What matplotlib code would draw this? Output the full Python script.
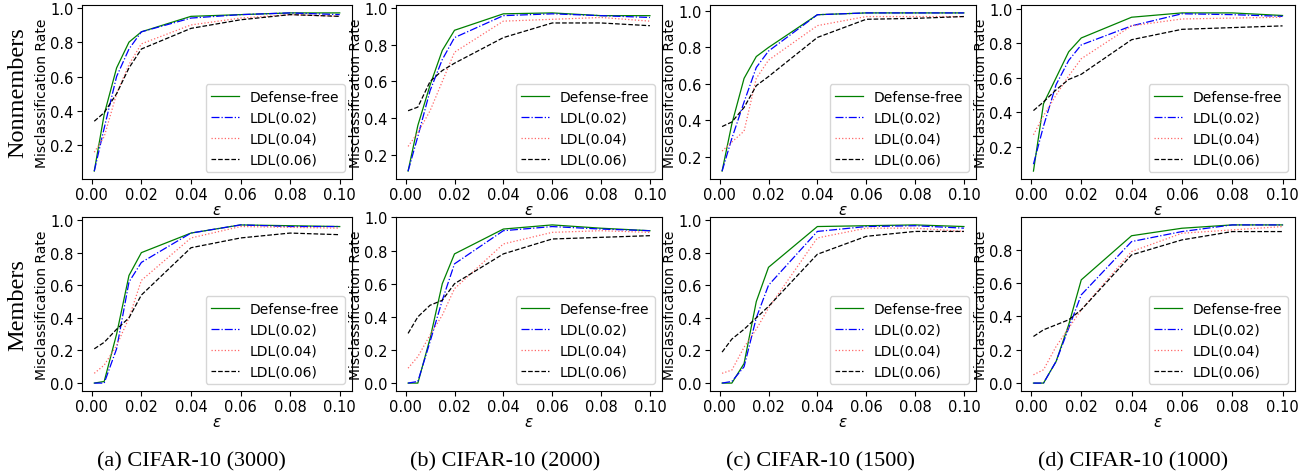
import numpy as np
import matplotlib
matplotlib.use("Agg")
import matplotlib.pyplot as plt
from matplotlib.ticker import MultipleLocator

eps = [0.001, 0.005, 0.01, 0.015, 0.02, 0.04, 0.06, 0.08, 0.1]
series_names = ["Defense-free", "LDL(0.02)", "LDL(0.04)", "LDL(0.06)"]
captions = ["(a) CIFAR-10 (3000)", "(b) CIFAR-10 (2000)", "(c) CIFAR-10 (1500)", "(d) CIFAR-10 (1000)"]
row_names = ["Nonmembers", "Members"]

# -----nonmembers-----
non_3000 = [
    [0.05, 0.38, 0.65, 0.80, 0.86, 0.95, 0.96, 0.97, 0.97],
    [0.05, 0.30, 0.60, 0.76, 0.86, 0.94, 0.96, 0.97, 0.96],
    [0.16, 0.25, 0.50, 0.67, 0.79, 0.90, 0.94, 0.96, 0.95],
    [0.34, 0.39, 0.50, 0.65, 0.76, 0.88, 0.93, 0.96, 0.95],
]
non_2000 = [
    [0.11, 0.36, 0.58, 0.77, 0.88, 0.97, 0.975, 0.96, 0.96],
    [0.11, 0.30, 0.55, 0.72, 0.84, 0.96, 0.97, 0.96, 0.95],
    [0.245, 0.32, 0.44, 0.60, 0.76, 0.93, 0.94, 0.95, 0.93],
    [0.44, 0.46, 0.60, 0.66, 0.70, 0.84, 0.92, 0.92, 0.905],
]
non_1500 = [
    [0.12, 0.38, 0.63, 0.75, 0.80, 0.98, 0.99, 0.99, 0.99],
    [0.12, 0.30, 0.50, 0.69, 0.78, 0.98, 0.99, 0.99, 0.99],
    [0.23, 0.28, 0.34, 0.63, 0.73, 0.92, 0.97, 0.97, 0.97],
    [0.365, 0.39, 0.47, 0.59, 0.64, 0.855, 0.955, 0.96, 0.97],
]
non_1000 = [
    [0.06, 0.45, 0.60, 0.75, 0.83, 0.95, 0.975, 0.975, 0.96],
    [0.10, 0.32, 0.56, 0.70, 0.79, 0.90, 0.97, 0.965, 0.955],
    [0.27, 0.38, 0.50, 0.61, 0.71, 0.90, 0.94, 0.945, 0.95],
    [0.41, 0.46, 0.53, 0.59, 0.62, 0.82, 0.88, 0.89, 0.90],
]

# -----members-----
mem_3000 = [
    [0.0, 0.01, 0.30, 0.66, 0.80, 0.92, 0.97, 0.965, 0.96],
    [0.0, 0.0, 0.21, 0.62, 0.74, 0.92, 0.97, 0.96, 0.96],
    [0.06, 0.11, 0.23, 0.40, 0.63, 0.89, 0.96, 0.955, 0.95],
    [0.21, 0.25, 0.33, 0.40, 0.54, 0.83, 0.89, 0.92, 0.91],
]
mem_2000 = [
    [0.0, 0.0, 0.27, 0.60, 0.78, 0.93, 0.955, 0.935, 0.92],
    [0.0, 0.01, 0.25, 0.50, 0.72, 0.92, 0.945, 0.93, 0.92],
    [0.09, 0.16, 0.29, 0.41, 0.57, 0.84, 0.91, 0.92, 0.91],
    [0.30, 0.40, 0.47, 0.50, 0.60, 0.78, 0.87, 0.88, 0.89],
]
mem_1500 = [
    [0.0, 0.0, 0.12, 0.50, 0.71, 0.96, 0.965, 0.97, 0.96],
    [0.0, 0.01, 0.10, 0.40, 0.60, 0.93, 0.96, 0.965, 0.95],
    [0.06, 0.08, 0.22, 0.33, 0.46, 0.89, 0.95, 0.95, 0.93],
    [0.19, 0.27, 0.33, 0.40, 0.47, 0.79, 0.90, 0.93, 0.93],
]
mem_1000 = [
    [0.0, 0.0, 0.13, 0.35, 0.62, 0.885, 0.93, 0.95, 0.95],
    [0.0, 0.0, 0.13, 0.33, 0.53, 0.85, 0.91, 0.95, 0.95],
    [0.05, 0.08, 0.22, 0.33, 0.44, 0.79, 0.90, 0.92, 0.94],
    [0.28, 0.32, 0.35, 0.38, 0.44, 0.77, 0.86, 0.91, 0.91],
]

data = [[non_3000, non_2000, non_1500, non_1000],
        [mem_3000, mem_2000, mem_1500, mem_1000]]

styles = [
    dict(color="green", linestyle="-"),
    dict(color="blue", linestyle="-."),
    dict(color="#ff6666", linestyle=":"),
    dict(color="black", linestyle="--"),
]

W, H = 1307, 477
fig = plt.figure(figsize=(W/100, H/100), dpi=100)

lefts = [82, 396, 710, 1021]
widths = [270, 266, 266, 274]
tops = [6, 218]
height = 174

for r in range(2):
    for c in range(4):
        ax = fig.add_axes([lefts[c]/W, 1-(tops[r]+height)/H, widths[c]/W, height/H])
        for k in range(4):
            ax.plot(eps, data[r][c][k], lw=0.9, label=series_names[k], **styles[k])
        ax.set_xticks([0.0, 0.02, 0.04, 0.06, 0.08, 0.10])
        ax.set_xticklabels(["0.00", "0.02", "0.04", "0.06", "0.08", "0.10"])
        ax.yaxis.set_major_locator(MultipleLocator(0.2))
        ax.tick_params(labelsize=10.5, pad=2.5)
        ax.set_xlabel(r"$\epsilon$", fontsize=11, labelpad=0)
        ax.set_ylabel("Misclassification Rate", fontsize=10, labelpad=1)
        ax.legend(loc="lower right", fontsize=10, handlelength=2.0)

# -----行ラベルとキャプション-----
for r in range(2):
    fig.text(18/W, 1-(tops[r]+height/2)/H, row_names[r], rotation=90,
             ha="center", va="center", fontsize=17.5, family="Liberation Serif")

cap_x = [191, 505, 820, 1133]
for c in range(4):
    fig.text(cap_x[c]/W, 1-462/H, captions[c], ha="center", va="center",
             fontsize=16, family="Liberation Serif")

plt.savefig("out.png", dpi=100)
